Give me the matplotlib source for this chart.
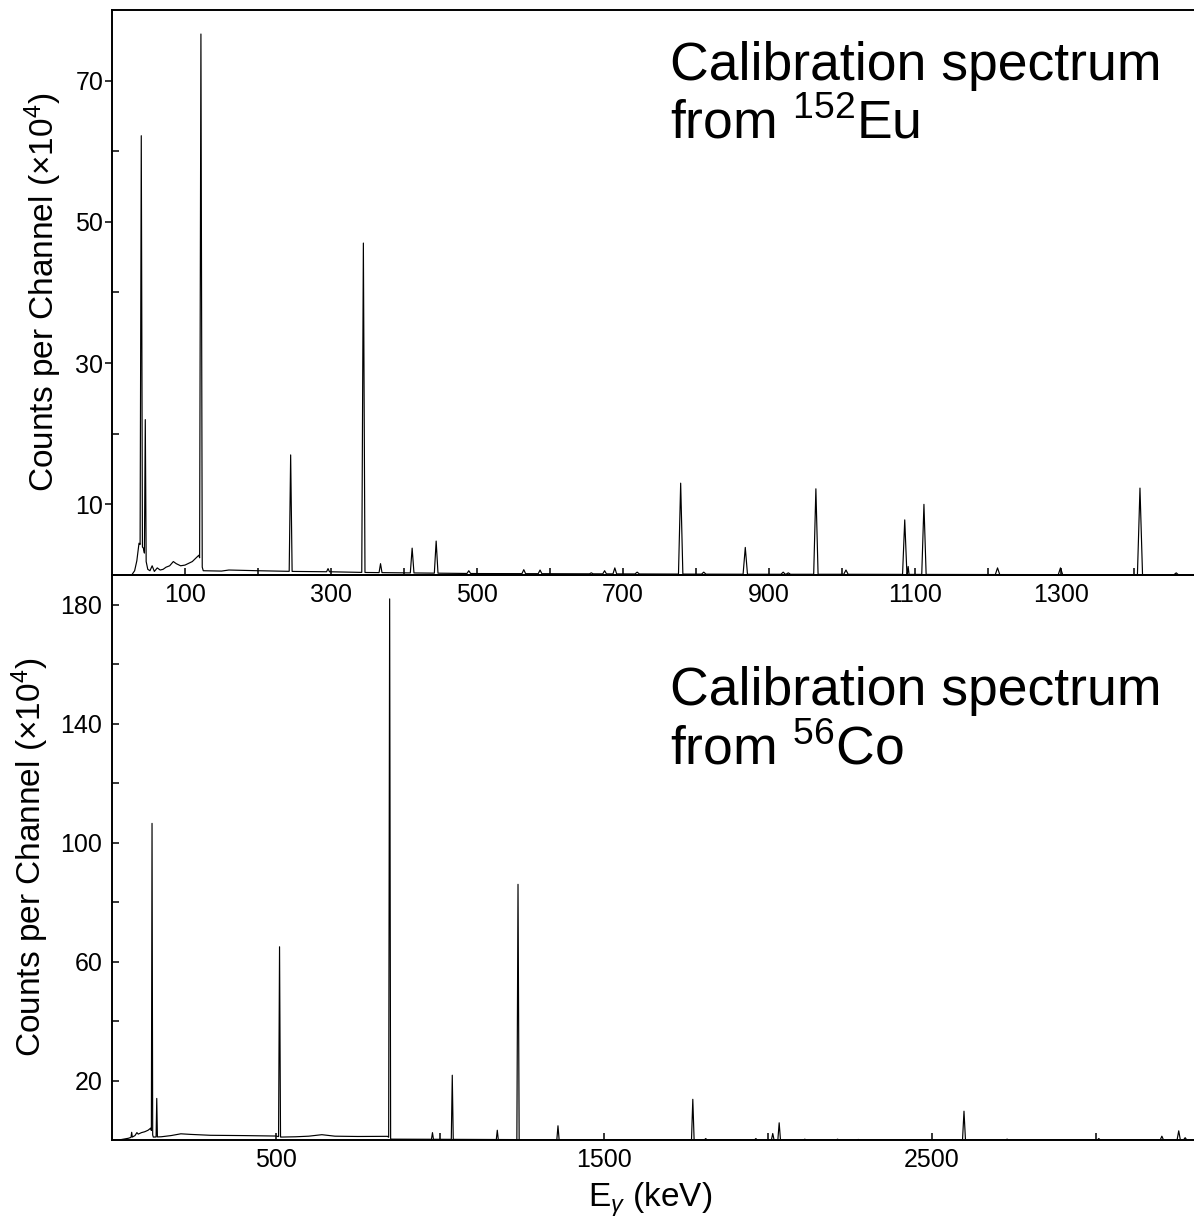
import numpy as np
import matplotlib
matplotlib.use("Agg")
import matplotlib.pyplot as plt

plt.rcParams['font.family'] = ['Liberation Sans', 'DejaVu Sans']
plt.rcParams['mathtext.fontset'] = 'custom'
plt.rcParams['mathtext.rm'] = 'Liberation Sans'
plt.rcParams['mathtext.it'] = 'Liberation Sans:italic'
plt.rcParams['mathtext.bf'] = 'Liberation Sans:bold'

#%% data (energy in keV, counts in units of 1e4)

# 152Eu spectrum: continuum knots
eu_bg_E = [0, 27, 31, 34, 37, 43, 49, 52, 55, 58, 62, 66, 70, 74, 79, 84, 88, 94,
           100, 110, 116, 119, 125, 150, 160, 200, 250, 300, 350, 400, 450, 500,
           600, 700, 800, 900, 1000, 1100, 1200, 1300, 1400, 1482]
eu_bg_y = [0, 0, 0.6, 2.0, 4.5, 3.8, 0.8, 0.6, 1.3, 0.5, 1.0, 0.7, 0.8, 1.1, 1.3, 1.9, 1.6, 1.3,
           1.4, 1.9, 2.5, 2.8, 0.6, 0.55, 0.7, 0.6, 0.5, 0.45, 0.35, 0.3, 0.25, 0.2,
           0.18, 0.15, 0.12, 0.1, 0.1, 0.08, 0.06, 0.05, 0.04, 0.03]
# 152Eu lines: energy, apex height, half base width
eu_pk_E = [40.1, 45.6, 121.8, 244.7, 295.9, 344.3, 367.8, 411.1, 444.0, 488.7,
           564.0, 586.3, 656.5, 674.7, 688.7, 719.3, 778.9, 810.5, 867.4, 919.3,
           926.3, 964.1, 1005.3, 1085.8, 1090.5, 1112.1, 1212.9, 1299.1, 1408.0, 1457.6]
eu_pk_h = [62.2, 22.0, 76.6, 17.0, 0.9, 47.0, 1.6, 3.8, 4.8, 0.6,
           0.75, 0.7, 0.3, 0.6, 1.0, 0.4, 13.0, 0.4, 3.9, 0.4,
           0.3, 12.2, 0.7, 7.8, 1.2, 10.0, 1.0, 1.0, 12.3, 0.3]
eu_pk_w = [1.6, 1.2, 1.8, 2.0, 2.0, 2.2, 2.0, 2.5, 2.5, 2.5,
           2.5, 2.5, 2.5, 2.5, 2.5, 3.0, 3.0, 3.0, 3.0, 3.0,
           3.0, 3.0, 3.0, 3.0, 1.2, 3.0, 3.0, 3.0, 3.5, 3.0]

# 56Co spectrum: continuum knots
co_bg_E = [0, 20, 35, 50, 58, 60, 62, 70, 76, 80, 90, 100, 110, 118, 126, 150,
           180, 210, 240, 300, 400, 500, 515, 560, 600, 640, 680, 750, 840, 852,
           1000, 1240, 1250, 2000, 3300]
co_bg_y = [0, 0, 0.3, 0.6, 0.9, 2.6, 1.0, 1.5, 2.5, 2.0, 2.5, 2.8, 3.3, 4.0, 1.0, 1.1,
           1.5, 2.1, 1.9, 1.6, 1.5, 1.35, 1.0, 1.1, 1.3, 1.8, 1.3, 1.2, 1.25, 0.3,
           0.25, 0.15, 0.1, 0.05, 0.03]
# 56Co (+57Co) lines
co_pk_E = [122.1, 136.5, 511.0, 846.8, 977.4, 1037.8, 1175.1, 1238.3, 1360.2, 1771.4,
           1810.8, 1963.7, 2015.2, 2034.8, 2113.0, 2212.9, 2276.0, 2598.5, 2730.0, 3009.6,
           3202.0, 3253.4, 3273.0]
co_pk_h = [106.5, 14.0, 65.0, 182.0, 2.5, 21.8, 3.3, 86.0, 4.8, 13.7,
           0.5, 0.5, 2.2, 5.8, 0.3, 0.3, 0.2, 9.7, 0.3, 0.5,
           1.3, 3.1, 0.8]
co_pk_w = [2.0, 2.0, 3.0, 3.0, 3.0, 3.0, 3.0, 3.5, 3.5, 4.0,
           4.0, 4.0, 4.0, 4.0, 4.0, 4.0, 4.0, 4.5, 4.5, 4.5,
           5.0, 5.0, 5.0]


def build_spectrum(bg_E, bg_y, pk_E, pk_h, pk_w):
    """polyline: continuum knots plus one triangle per line"""
    bg_E = np.asarray(bg_E, float)
    bg_y = np.asarray(bg_y, float)
    keep = np.ones(len(bg_E), bool)
    for e, w in zip(pk_E, pk_w):
        keep &= ~((bg_E > e - w) & (bg_E < e + w))
    E = list(bg_E[keep])
    Y = list(bg_y[keep])
    for e, h, w in zip(pk_E, pk_h, pk_w):
        for x in (e - w, e + w):
            E.append(x)
            Y.append(np.interp(x, bg_E, bg_y))
        E.append(e)
        Y.append(h)
    order = np.argsort(E)
    return np.array(E)[order], np.array(Y)[order]


eu_E, eu_y = build_spectrum(eu_bg_E, eu_bg_y, eu_pk_E, eu_pk_h, eu_pk_w)
co_E, co_y = build_spectrum(co_bg_E, co_bg_y, co_pk_E, co_pk_h, co_pk_w)

#%% figure

fig = plt.figure(figsize=(11.94, 12.21), dpi=100)
ax1 = fig.add_axes([0.0938, 0.5291, 0.9062, 0.4627])
ax2 = fig.add_axes([0.0938, 0.0663, 0.9062, 0.4627])
ax2.patch.set_alpha(0)

ax1.plot(eu_E, eu_y, color='black', lw=0.85)
ax2.plot(co_E, co_y, color='black', lw=0.85)

ax1.set_xlim(0, 1482)
ax1.set_ylim(0, 80)
ax2.set_xlim(0, 3300)
ax2.set_ylim(0, 190)

ax1.set_xticks([100, 300, 500, 700, 900, 1100, 1300])
ax1.set_xticks([200, 400, 600, 800, 1000, 1200, 1400], minor=True)
ax1.set_yticks([10, 30, 50, 70])
ax1.set_yticks([20, 40, 60], minor=True)
ax2.set_xticks([500, 1500, 2500])
ax2.set_xticks([1000, 2000, 3000], minor=True)
ax2.set_yticks([20, 60, 100, 140, 180])
ax2.set_yticks([40, 80, 120, 160], minor=True)

for ax in (ax1, ax2):
    ax.spines['right'].set_visible(False)
    for s in ('left', 'bottom', 'top'):
        ax.spines[s].set_linewidth(1.4)
    ax.tick_params(axis='x', which='both', direction='in', length=5, width=1.1,
                   labelsize=18, pad=6, top=False)
    ax.tick_params(axis='y', which='both', right=False, labelsize=18, width=1.1)

ax1.tick_params(axis='y', which='major', direction='out', length=5.3, pad=1)
ax1.tick_params(axis='y', which='minor', direction='in', length=5.3)
ax2.tick_params(axis='y', which='both', direction='in', length=5.3, pad=7)

ax1.set_ylabel('Counts per Channel (×10$^4$)', fontsize=24)
ax2.set_ylabel('Counts per Channel (×10$^4$)', fontsize=24)
ax1.yaxis.set_label_coords(-0.044, 0.5)
ax2.yaxis.set_label_coords(-0.056, 0.5)
ax2.set_xlabel(r'E$_\gamma$ (keV)', fontsize=24)
ax2.xaxis.set_label_coords(0.497, -0.072)

ax1.text(0.516, 0.876, 'Calibration spectrum', transform=ax1.transAxes,
         fontsize=38.5, va='baseline', ha='left')
ax1.text(0.516, 0.773, 'from $^{152}$Eu', transform=ax1.transAxes,
         fontsize=38.5, va='baseline', ha='left')
ax2.text(0.516, 0.770, 'Calibration spectrum', transform=ax2.transAxes,
         fontsize=38.5, va='baseline', ha='left')
ax2.text(0.516, 0.664, 'from $^{56}$Co', transform=ax2.transAxes,
         fontsize=38.5, va='baseline', ha='left')

plt.savefig('out.png', dpi=100)
